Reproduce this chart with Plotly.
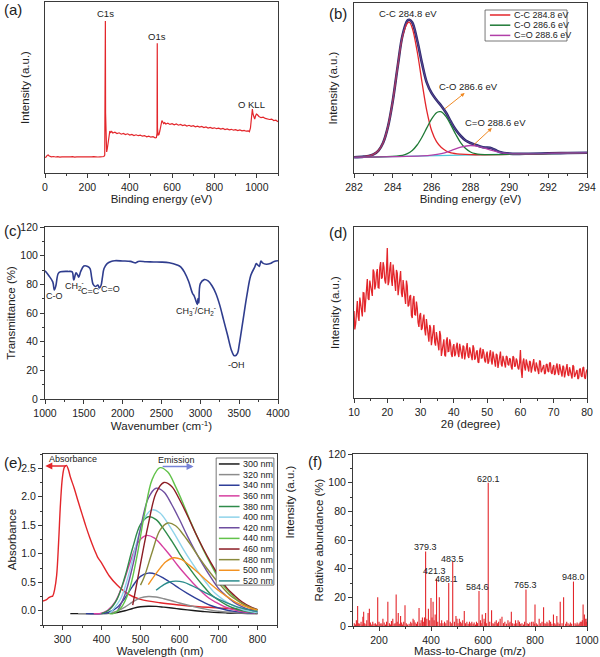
import plotly.graph_objects as go

FONT = "Liberation Sans, Arial, sans-serif"

# ---------------- (a) XPS survey ----------------
A_BE = [0, 5, 10, 15, 20, 25, 30, 40, 50, 60, 70, 80, 90, 100, 110, 120, 130, 140, 150, 160, 170, 180, 190, 200,
        210, 220, 230, 240, 250, 260, 270, 278, 282, 284, 285, 286, 288, 291, 294, 297, 300, 303, 306, 310, 315, 320,
        330, 340, 350, 360, 370, 380, 390, 400, 410, 420, 430, 440, 450, 460, 470, 480, 490, 500, 510, 520, 526,
        529, 530, 531, 534, 538, 542, 547, 552, 556, 560, 565, 570, 580, 590, 600, 610, 620, 630, 640, 650, 660,
        670, 680, 690, 700, 710, 720, 730, 740, 750, 760, 770, 780, 790, 800, 810, 820, 830, 840, 850, 860, 870,
        880, 890, 900, 910, 920, 930, 940, 950, 960, 965, 970, 974, 977, 979, 982, 986, 990, 994, 998, 1002, 1006,
        1010, 1020, 1030, 1040, 1050, 1060, 1070, 1080, 1090, 1100]
A_INT = [15.5, 16, 17.5, 18, 17, 16.5, 16.2, 16.5, 16, 16.3, 15.8, 16.2, 16, 16.3, 15.9, 16.1, 16.4, 15.8, 16.2, 16,
         16.3, 15.9, 16.1, 16.2, 15.8, 16.1, 16.3, 15.9, 16, 16.2, 16.1, 16.5, 18, 60, 152, 60, 25, 21, 24, 30, 36,
         40, 42, 40.5, 41.5, 40, 40.8, 39.5, 40.2, 38.8, 39.6, 38.5, 39.2, 38, 38.6, 37.5, 38.2, 37.3, 37.9, 36.8,
         37.4, 36.2, 36.9, 35.8, 36.3, 35.2, 35.5, 40, 129.7, 45, 38, 38.5, 42, 48, 52.5, 51, 49.5, 50.3, 49, 49.8,
         48.6, 49.3, 48.2, 49, 47.8, 48.5, 47.5, 48.1, 47, 47.7, 46.6, 47.3, 46.2, 46.8, 45.9, 46.5, 45.5, 46, 45,
         45.6, 44.6, 45.2, 44.3, 44.9, 43.9, 44.5, 43.5, 44, 43.1, 43.7, 42.8, 43.3, 42.4, 43, 42.1, 42.6, 41.8,
         42.2, 41.3, 45, 55, 63, 64, 59, 55, 54, 57, 59, 58.5, 57, 56.5, 55.3, 55.8, 54.6, 54.2, 53.5, 53.9, 52.5,
         52.8, 51.3]

# ---------------- (b) C1s high resolution ----------------
B_ENV_BE = [282, 282.5, 282.75, 283, 283.25, 283.5, 283.75, 284, 284.25, 284.5, 284.75, 284.85, 285, 285.25, 285.5,
            285.75, 286, 286.25, 286.5, 286.75, 287, 287.25, 287.5, 287.75, 288, 288.25, 288.5, 288.75, 289, 289.25,
            289.5, 290, 290.5, 291, 292, 293, 294]
B_ENV = [15.7, 16.4, 17.0, 18.6, 22.2, 30.3, 46.4, 72.5, 106.6, 137.7, 152.3, 153.3, 150.5, 133, 109.9, 90.4, 79.8,
         73, 67, 60, 51, 43, 37, 32.5, 30, 28.3, 26.6, 25.5, 25.2, 23.3, 21.1, 19.4, 19.1, 19.3, 19.7, 20.0, 20.3]
B_CC_BE = [282, 282.5, 282.75, 283, 283.25, 283.5, 283.75, 284, 284.25, 284.5, 284.75, 284.85, 285, 285.25, 285.5,
           285.75, 286, 286.25, 286.5, 286.75, 287, 287.5, 288, 294]
B_CC = [15.7, 16.4, 17.0, 18.6, 22.2, 30.3, 46.4, 72.5, 106.6, 136.7, 149.8, 150.8, 144.9, 122.0, 91.0, 62.1, 42.2,
        31.3, 25.4, 22.0, 20.1, 18.8, 18.3, 20.3]
B_CO_BE = [282, 284.5, 284.75, 285, 285.25, 285.5, 285.75, 286, 286.25, 286.4, 286.5, 286.75, 287, 287.25, 287.5,
           287.75, 288, 288.25, 288.5, 294]
B_CO = [15.7, 17.7, 19.3, 22.5, 28.0, 35.8, 45.1, 54.2, 60.3, 61.3, 61.2, 56.2, 47.6, 38.3, 30.1, 24.4, 21.0, 19.3,
        18.6, 20.3]
B_CEO_BE = [282, 285.5, 286, 286.5, 287, 287.5, 288, 288.5, 289, 289.5, 290, 290.5, 294]
B_CEO = [15.7, 17.1, 17.8, 19.4, 22.4, 25.8, 27.5, 26.2, 23.2, 20.6, 19.4, 19.1, 20.3]
B_BASE_BE = [282, 294]
B_BASE = [15.7, 20.3]
B_NAMES = ["C-C 284.8 eV", "C-O 286.6 eV", "C=O 288.6 eV"]

# ---------------- (c) FTIR ----------------
C_WN = [1000, 1050, 1100, 1120, 1140, 1170, 1200, 1300, 1350, 1370, 1400, 1420, 1434, 1460, 1500, 1550, 1580, 1600,
        1620, 1650, 1680, 1700, 1720, 1740, 1760, 1800, 1850, 1900, 2000, 2100, 2170, 2200, 2300, 2400, 2500, 2600,
        2700, 2750, 2800, 2850, 2900, 2920, 2940, 2960, 2970, 2980, 3000, 3050, 3100, 3150, 3200, 3250, 3300, 3350,
        3400, 3430, 3450, 3480, 3500, 3550, 3600, 3650, 3700, 3720, 3740, 3760, 3780, 3800, 3850, 3900, 3950, 4000]
C_T = [89.4, 86, 81.7, 76, 79, 87.5, 88.7, 89, 88.7, 83, 88, 86.5, 85, 89, 92.8, 92.5, 91, 85, 80, 78.5, 79.5, 77.5,
       79, 85, 91, 94.5, 96, 96.5, 96.3, 96, 95, 96, 95.8, 95.6, 95.5, 95, 93.5, 92, 88, 82, 73.6, 72, 69, 66, 70, 67,
       80.5, 83.3, 82.4, 79, 73.6, 65.5, 55, 44.6, 34, 30.5, 30.2, 32, 37.6, 55, 72.4, 86.3, 92, 94.5, 93.5, 92.5,
       96.3, 95, 94, 94.5, 96, 96.5]

# ---------------- (d) XRD ----------------
D_2THETA = [10, 10.25, 10.5, 10.75, 11, 11.25, 11.5, 11.75, 12, 12.25, 12.5, 12.75, 13, 13.25, 13.5, 13.75,
            14, 14.25, 14.5, 14.75, 15, 15.25, 15.5, 15.75, 16, 16.25, 16.5, 16.75, 17, 17.25, 17.5, 17.75,
            18, 18.25, 18.5, 18.75, 19, 19.25, 19.5, 19.75, 20, 20.25, 20.5, 20.75, 21, 21.25, 21.5, 21.75,
            22, 22.25, 22.5, 22.75, 23, 23.25, 23.5, 23.75, 24, 24.25, 24.5, 24.75, 25, 25.25, 25.5, 25.75,
            26, 26.25, 26.5, 26.75, 27, 27.25, 27.5, 27.75, 28, 28.25, 28.5, 28.75, 29, 29.25, 29.5, 29.75,
            30, 30.25, 30.5, 30.75, 31, 31.25, 31.5, 31.75, 32, 32.25, 32.5, 32.75, 33, 33.25, 33.5, 33.75,
            34, 34.25, 34.5, 34.75, 35, 35.25, 35.5, 35.75, 36, 36.25, 36.5, 36.75, 37, 37.25, 37.5, 37.75,
            38, 38.25, 38.5, 38.75, 39, 39.25, 39.5, 39.75, 40, 40.25, 40.5, 40.75, 41, 41.25, 41.5, 41.75,
            42, 42.25, 42.5, 42.75, 43, 43.25, 43.5, 43.75, 44, 44.25, 44.5, 44.75, 45, 45.25, 45.5, 45.75,
            46, 46.25, 46.5, 46.75, 47, 47.25, 47.5, 47.75, 48, 48.25, 48.5, 48.75, 49, 49.25, 49.5, 49.75,
            50, 50.25, 50.5, 50.75, 51, 51.25, 51.5, 51.75, 52, 52.25, 52.5, 52.75, 53, 53.25, 53.5, 53.75,
            54, 54.25, 54.5, 54.75, 55, 55.25, 55.5, 55.75, 56, 56.25, 56.5, 56.75, 57, 57.25, 57.5, 57.75,
            58, 58.25, 58.5, 58.75, 59, 59.25, 59.5, 59.75, 60, 60.25, 60.5, 60.75, 61, 61.25, 61.5, 61.75,
            62, 62.25, 62.5, 62.75, 63, 63.25, 63.5, 63.75, 64, 64.25, 64.5, 64.75, 65, 65.25, 65.5, 65.75,
            66, 66.25, 66.5, 66.75, 67, 67.25, 67.5, 67.75, 68, 68.25, 68.5, 68.75, 69, 69.25, 69.5, 69.75,
            70, 70.25, 70.5, 70.75, 71, 71.25, 71.5, 71.75, 72, 72.25, 72.5, 72.75, 73, 73.25, 73.5, 73.75,
            74, 74.25, 74.5, 74.75, 75, 75.25, 75.5, 75.75, 76, 76.25, 76.5, 76.75, 77, 77.25, 77.5, 77.75,
            78, 78.25, 78.5, 78.75, 79, 79.25, 79.5, 79.75, 80]
D_INT = [87, 68.5, 74, 88.5, 97, 81.5, 77, 100.5, 94, 83.8, 81.5, 105.3, 105, 85.8, 95.5, 107.3,
         119, 99.5, 98, 117.5, 113, 108.5, 102, 128.5, 126, 108.5, 113, 124.5, 129, 110.5, 110, 130.5,
         136, 119.3, 120.5, 135.8, 131, 117.8, 114.5, 127.3, 150, 112.8, 116.5, 129.3, 136, 118.5, 112, 133.5,
         125, 112, 107, 128, 125, 102.8, 109.5, 118.3, 127, 105, 101, 118, 111, 103.5, 94, 117.5,
         112, 91.5, 93, 101.5, 103, 82.5, 80, 98.5, 102, 83.5, 83, 96.5, 90, 75.5, 71, 82.5,
         85, 68, 70, 79, 83.4, 68.5, 62.5, 78.9, 71, 60.6, 56.4, 73, 70.4, 52.9, 58.5, 65.8,
         73, 55.5, 52.3, 66, 60.4, 54.9, 47.7, 67, 63, 42, 49, 56.7, 58.6, 42.9, 41.6, 57.1,
         60.6, 46.5, 46.8, 58.6, 54.3, 43.7, 41, 51.2, 53.9, 41.7, 43.8, 51.4, 55.3, 44.9, 41, 54.2,
         49.4, 42, 39.3, 52.5, 51.3, 38.5, 43, 49, 55, 42.2, 40.1, 50.7, 46.8, 43, 37.9, 52.7,
         50, 38.4, 39.9, 45.9, 47.7, 36.1, 35.2, 47.2, 50.2, 39.8, 40.1, 48.9, 45.6, 37.6, 35.5, 43.1,
         46.4, 34.2, 36.3, 43.9, 47.8, 37.4, 33.5, 46.5, 41.4, 34, 31.3, 44.3, 42.8, 30, 34.5, 40.5,
         46.5, 33.7, 31.6, 42.2, 38, 32.8, 30.5, 42, 41, 33.8, 32.5, 39.8, 38.5, 31, 28.5, 41.8,
         40.5, 31.8, 32, 39.5, 37, 30.3, 28.5, 35, 48, 27.8, 20, 36, 39.5, 30.8, 27.5, 38.5,
         34, 27.8, 26.5, 37, 36, 25.3, 29, 34, 39, 28.3, 26.5, 35.5, 32.5, 29.3, 24, 37.5,
         36.5, 25.8, 28, 32, 33, 24, 25, 33.3, 34, 27, 26, 34.8, 35.5, 25.5, 24, 30.3,
         33, 23, 25, 31.3, 34.5, 26, 23, 33.8, 29.5, 23.5, 21.5, 32.3, 31, 20.5, 24.5, 29.3,
         34, 23.5, 22, 30.8, 27.5, 24.5, 19.5, 32.8, 31.5, 21, 23.5, 27.3, 28, 19, 20, 28.5,
         29.5, 22.3, 21, 30, 31, 21, 19, 25.5, 28.5]

# ---------------- (e) UV-vis absorbance + PL ----------------
E_ABS_WL = [250, 258, 265, 271, 275, 280, 285, 290, 295, 300, 305, 310, 315, 320, 330, 340, 350, 360, 370, 380, 385,
            390, 400, 420, 440, 460, 480, 500, 550, 600, 650, 700, 750, 800]
E_ABS = [0.17, 0.19, 0.23, 0.25, 0.26, 0.38, 0.62, 1.2, 1.9, 2.35, 2.52, 2.55, 2.48, 2.35, 2.15, 1.92, 1.70, 1.48,
         1.28, 1.10, 1.02, 0.94, 0.84, 0.61, 0.45, 0.33, 0.25, 0.20, 0.14, 0.10, 0.07, 0.05, 0.03, 0.02]

E_LABELS = ["300 nm", "320 nm", "340 nm", "360 nm", "380 nm", "400 nm", "420 nm", "440 nm", "460 nm", "480 nm",
            "500 nm", "520 nm"]
E_WL_300 = [320, 400, 420, 440, 460, 480, 500, 520, 540, 560, 580, 600, 620, 640, 660, 680, 700, 720, 740, 760, 780, 800]
E_PL_300 = [-0.05, -0.05, -0.045, -0.03, 0.0, 0.04, 0.07, 0.08, 0.076, 0.063, 0.048, 0.031, 0.015, 0.001, -0.012,
            -0.024, -0.032, -0.038, -0.043, -0.046, -0.048, -0.05]
E_WL_320 = [340, 400, 420, 440, 460, 480, 500, 520, 540, 560, 580, 600, 620, 640, 660, 680, 700, 720, 740, 760, 780, 800]
E_PL_320 = [-0.05, -0.05, -0.038, -0.005, 0.064, 0.154, 0.226, 0.25, 0.241, 0.211, 0.175, 0.136, 0.10, 0.067, 0.037,
            0.01, -0.008, -0.023, -0.034, -0.041, -0.046, -0.05]
E_WL_340 = [360, 400, 420, 440, 460, 480, 500, 520, 540, 560, 580, 600, 620, 640, 660, 680, 700, 720, 740, 760, 780, 800]
E_PL_340 = [-0.05, -0.05, -0.022, 0.057, 0.22, 0.433, 0.603, 0.66, 0.639, 0.568, 0.483, 0.39, 0.305, 0.227, 0.156,
            0.092, 0.049, 0.014, -0.011, -0.029, -0.039, -0.045]
E_WL_360 = [380, 395, 415, 435, 455, 475, 495, 515, 535, 555, 575, 595, 615, 635, 655, 675, 695, 715, 735, 755, 775,
            795, 800]
E_PL_360 = [-0.05, -0.05, 0.005, 0.156, 0.471, 0.882, 1.21, 1.32, 1.279, 1.142, 0.978, 0.799, 0.635, 0.484, 0.347,
            0.224, 0.142, 0.073, 0.025, -0.009, -0.029, -0.045, -0.047]
E_WL_380 = [400, 420, 440, 460, 480, 500, 520, 540, 560, 580, 600, 620, 640, 660, 680, 700, 720, 740, 760, 780, 800]
E_PL_380 = [-0.05, 0.018, 0.205, 0.596, 1.106, 1.514, 1.65, 1.599, 1.429, 1.225, 1.004, 0.80, 0.613, 0.443, 0.29,
            0.188, 0.103, 0.044, 0.001, -0.025, -0.04]
E_WL_400 = [420, 430, 450, 470, 490, 510, 530, 550, 570, 590, 610, 630, 650, 670, 690, 710, 730, 750, 770, 790, 800]
E_PL_400 = [-0.05, 0.023, 0.223, 0.642, 1.188, 1.624, 1.77, 1.715, 1.533, 1.315, 1.078, 0.86, 0.66, 0.478, 0.314,
            0.205, 0.114, 0.05, 0.005, -0.023, -0.03]
E_WL_420 = [440, 460, 480, 500, 520, 540, 560, 580, 600, 620, 640, 660, 680, 700, 720, 740, 760, 780, 800]
E_PL_420 = [-0.02, 0.28, 0.786, 1.446, 1.974, 2.15, 2.084, 1.864, 1.6, 1.314, 1.05, 0.808, 0.588, 0.39, 0.258, 0.148,
            0.071, 0.016, -0.017]
E_WL_440 = [420, 430, 450, 470, 490, 510, 530, 550, 570, 590, 610, 630, 650, 670, 690, 710, 730, 750, 770, 790, 800]
E_PL_440 = [-0.05, -0.05, 0.052, 0.334, 0.923, 1.691, 2.305, 2.51, 2.433, 2.177, 1.87, 1.537, 1.23, 0.948, 0.692,
            0.462, 0.308, 0.18, 0.091, 0.027, 0.01]
E_WL_460 = [480, 500, 520, 540, 560, 580, 600, 620, 640, 660, 680, 700, 720, 740, 760, 780, 800]
E_PL_460 = [0.1, 0.824, 1.514, 2.066, 2.25, 2.181, 1.951, 1.675, 1.376, 1.1, 0.847, 0.617, 0.41, 0.272, 0.157, 0.077,
            0.02]
E_WL_480 = [500, 510, 530, 550, 570, 590, 610, 630, 650, 670, 690, 710, 730, 750, 770, 790, 800]
E_PL_480 = [0.45, 0.6, 1.031, 1.413, 1.54, 1.492, 1.333, 1.143, 0.936, 0.745, 0.57, 0.411, 0.268, 0.173, 0.093, 0.037,
            0.02]
E_WL_500 = [520, 545, 565, 585, 605, 625, 645, 665, 685, 705, 725, 745, 765, 785, 800]
E_PL_500 = [0.46, 0.7, 0.86, 0.93, 0.90, 0.80, 0.685, 0.558, 0.44, 0.33, 0.234, 0.146, 0.087, 0.038, 0.01]
E_WL_520 = [540, 560, 575, 590, 610, 630, 650, 670, 690, 710, 730, 750, 770, 790, 800]
E_PL_520 = [0.36, 0.46, 0.505, 0.52, 0.503, 0.446, 0.378, 0.303, 0.235, 0.172, 0.115, 0.064, 0.03, -0.003, -0.01]

# ---------------- (f) mass spectrum ----------------
F_MZ = [117.8, 138, 141, 158, 163, 195, 215, 234, 253, 266, 274, 283, 300, 322, 331, 354, 367, 379.3, 390, 400, 408,
        421.3, 432, 468.1, 483.5, 496, 509, 528, 548, 584.6, 597, 610, 620.1, 633, 651, 673, 696, 709, 735, 765.3,
        787, 800, 816, 833, 855, 871, 884, 897, 910, 948.0, 974, 985, 990, 995]
F_AB = [14, 6.5, 10, 9, 12, 20, 5, 17, 5, 22, 9, 7, 14.5, 3, 5, 12.5, 6, 52, 12, 19.5, 17, 33, 20, 30, 45, 7, 5, 10.5,
        3, 24.5, 8, 9, 100, 11, 4, 6.5, 4, 10, 4, 25.5, 3, 15, 5, 13, 4, 8, 7, 17, 20, 31, 3, 15, 8, 5]
F_MZ_MINOR = [105, 110, 113, 122, 126, 131, 135, 145, 150, 153, 167, 172, 176, 181, 186, 190, 200, 204, 208, 212, 220,
              225, 229, 240, 244, 248, 258, 262, 270, 278, 287, 290, 295, 305, 310, 316, 326, 335, 339, 344, 348, 358,
              362, 372, 375, 384, 395, 404, 412, 416, 426, 438, 441, 446, 452, 457, 462, 474, 478, 490, 500, 504,
              514, 518, 522, 533, 538, 543, 553, 557, 562, 566, 571, 575, 579, 590, 593, 604, 607, 614, 626, 638,
              642, 646, 656, 660, 666, 679, 684, 690, 700, 704, 714, 720, 725, 730, 740, 745, 750, 756, 760, 770,
              775, 780, 793, 797, 805, 810, 822, 827, 838, 842, 846, 850, 860, 865, 876, 880, 888, 893, 904, 918,
              922, 927, 932, 936, 941, 954, 958, 962, 966, 970, 978, 982, 997, 1000]
F_AB_MINOR = [2, 1, 4, 2, 1.5, 3, 1, 2, 1.2, 4, 2.5, 1, 3, 1.5, 2, 1, 3, 1.5, 2, 1, 2.5, 1, 3, 2, 1, 3.5, 1.5, 2, 3,
              1.5, 2.5, 1, 3, 2, 1, 1.5, 2, 4, 2.5, 1.5, 3, 2, 4, 3, 6, 5, 4, 6, 4, 8, 3, 2, 4, 2, 3, 2, 4, 3, 2, 3,
              5, 2, 3, 2, 4, 2, 3, 1.5, 2, 3, 1.5, 2.5, 1, 3, 2, 4, 2, 5, 3, 2, 3, 2, 1.5, 3, 2, 3, 5, 2, 3, 1.5, 2,
              3, 2, 1.5, 4, 2, 3, 1.5, 2, 1, 3, 2, 1.5, 2.5, 3, 1.5, 2, 1, 2, 3, 2, 1.5, 3, 2, 3, 1.5, 2, 1, 2.5,
              1.5, 2, 1.5, 3, 2, 1, 2.5, 1.5, 2, 1, 2.5, 1, 2, 3, 4, 3, 5]
F_LABELS = ["379.3", "421.3", "468.1", "483.5", "584.6", "620.1", "765.3", "948.0"]
F_LABEL_MZ = [379.3, 421.3, 468.1, 483.5, 584.6, 620.1, 765.3, 948.0]

# ---------------- styling ----------------
RED = "#e3262b"
NAVY = "#2f3d8e"
AXC = "#3a3a3a"
E_COLORS = ["#1a1a1a", "#8c8c8c", "#2f3f99", "#d63fa0", "#2e8b4a", "#8fd3ea", "#6e4ea0", "#62c24a", "#8b1c24",
            "#8a8a3c", "#f39221", "#2b8c8c"]

W, H = 600, 657


def px_x(p):
    return p / W


def px_y(p):
    return 1 - p / H


fig = go.Figure()

# (a)
fig.add_trace(go.Scatter(x=A_BE, y=A_INT, mode="lines", line=dict(color=RED, width=1.2), xaxis="x", yaxis="y",
                         showlegend=False))
# (b)
fig.add_trace(go.Scatter(x=B_BASE_BE, y=B_BASE, mode="lines", line=dict(color="#4fc8dc", width=1.2), xaxis="x2",
                         yaxis="y2", showlegend=False))
fig.add_trace(go.Scatter(x=B_ENV_BE, y=B_ENV, mode="lines", line=dict(color="#2a2a6e", width=2.6, shape="spline"),
                         xaxis="x2", yaxis="y2", showlegend=False))
for bx, by, col in [(B_CC_BE, B_CC, "#e3262b"), (B_CO_BE, B_CO, "#1f7a36"), (B_CEO_BE, B_CEO, "#b13fa8")]:
    fig.add_trace(go.Scatter(x=bx, y=by, mode="lines", line=dict(color=col, width=1.3, shape="spline"),
                             xaxis="x2", yaxis="y2", showlegend=False))
fig.add_trace(go.Scatter(x=B_ENV_BE, y=B_ENV, mode="lines", line=dict(color="#6a4a9a", width=0.8, shape="spline"),
                         xaxis="x2", yaxis="y2", showlegend=False))
# (c)
fig.add_trace(go.Scatter(x=C_WN, y=C_T, mode="lines", line=dict(color=NAVY, width=1.6, shape="spline"),
                         xaxis="x3", yaxis="y3", showlegend=False))
# (d)
fig.add_trace(go.Scatter(x=D_2THETA, y=D_INT, mode="lines", line=dict(color=RED, width=1.3), xaxis="x4",
                         yaxis="y4", showlegend=False))
# (e)
fig.add_trace(go.Scatter(x=E_ABS_WL, y=E_ABS, mode="lines", line=dict(color=RED, width=1.4, shape="spline"),
                         xaxis="x5", yaxis="y5", showlegend=False))
E_WLS = [E_WL_300, E_WL_320, E_WL_340, E_WL_360, E_WL_380, E_WL_400, E_WL_420, E_WL_440, E_WL_460, E_WL_480,
         E_WL_500, E_WL_520]
E_PLS = [E_PL_300, E_PL_320, E_PL_340, E_PL_360, E_PL_380, E_PL_400, E_PL_420, E_PL_440, E_PL_460, E_PL_480,
         E_PL_500, E_PL_520]
for wl, pl, col in zip(E_WLS, E_PLS, E_COLORS):
    fig.add_trace(go.Scatter(x=wl, y=pl, mode="lines", line=dict(color=col, width=1.4, shape="spline"),
                             xaxis="x5", yaxis="y5", showlegend=False))
# (f)
sx, sy = [], []
for m, h in zip(F_MZ_MINOR + F_MZ, F_AB_MINOR + F_AB):
    sx += [m, m, None]
    sy += [0, h, None]
fig.add_trace(go.Scatter(x=sx, y=sy, mode="lines", line=dict(color=RED, width=1.1), xaxis="x6", yaxis="y6",
                         showlegend=False))


def axis(domain, rng, anchor, dtick=None, minor=None, showticks=True, title=None, standoff=2, tickfont=10.5):
    d = dict(domain=domain, range=rng, anchor=anchor, showline=True, linecolor=AXC, linewidth=1, mirror=True,
             showgrid=False, zeroline=False, tickfont=dict(size=tickfont, color="#222"), automargin=False,
             ticks="outside" if showticks else "", ticklen=4, tickwidth=1, tickcolor=AXC,
             showticklabels=showticks)
    if dtick is not None:
        d["dtick"] = dtick
        d["tick0"] = 0
    if minor is not None and showticks:
        d["minor"] = dict(dtick=minor, ticks="outside", ticklen=2, tickcolor=AXC, tickwidth=1)
    if title is not None:
        d["title"] = dict(text=title, font=dict(size=11.5, color="#222"), standoff=standoff)
    return d


layout = dict(width=W, height=H, margin=dict(l=0, r=0, t=0, b=0, autoexpand=False), plot_bgcolor="white",
              paper_bgcolor="white", font=dict(family=FONT, size=11, color="#222"), showlegend=False)

# domains
dA_x = [px_x(45), px_x(278)]; dA_y = [px_y(173), px_y(2)]
dB_x = [px_x(354), px_x(587)]; dB_y = [px_y(173), px_y(3)]
dC_x = [px_x(45), px_x(278)]; dC_y = [px_y(399), px_y(227)]
dD_x = [px_x(354), px_x(587)]; dD_y = [px_y(398), px_y(227)]
dE_x = [px_x(43), px_x(277)]; dE_y = [px_y(625), px_y(454)]
dF_x = [px_x(353), px_x(587)]; dF_y = [px_y(626), px_y(454)]

layout["xaxis"] = axis(dA_x, [0, 1100], "y", 200, 100, title="Binding energy (eV)")
layout["yaxis"] = axis(dA_y, [0, 171], "x", showticks=False, title="Intensity (a.u.)", standoff=11)
layout["xaxis2"] = axis(dB_x, [282, 294], "y2", 2, 1, title="Binding energy (eV)")
layout["yaxis2"] = axis(dB_y, [0, 170], "x2", showticks=False, title="Intensity (a.u.)", standoff=12)
layout["xaxis3"] = axis(dC_x, [1000, 4000], "y3", 500, 250, title="Wavenumber (cm<sup>-1</sup>)")
layout["yaxis3"] = axis(dC_y, [0, 120], "x3", 20, 10, title="Transmittance (%)", standoff=2)
layout["xaxis4"] = axis(dD_x, [10, 80], "y4", 10, 5, title="2θ (degree)")
layout["yaxis4"] = axis(dD_y, [0, 171], "x4", showticks=False, title="Intensity (a.u.)", standoff=10)
layout["xaxis5"] = axis(dE_x, [250, 850], "y5", 100, 50, title="Wavelength (nm)")
layout["yaxis5"] = axis(dE_y, [-0.25, 2.75], "x5", 0.5, 0.25, title="Absorbance", standoff=2)
layout["yaxis5"]["tickformat"] = ".1f"
layout["xaxis6"] = axis(dF_x, [100, 1000], "y6", 200, 100, title="Mass-to-Charge (m/z)")
layout["yaxis6"] = axis(dF_y, [0, 120], "x6", 20, 10, title="Relative abundance (%)", standoff=2)
layout["xaxis6"]["tick0"] = 0

fig.update_layout(**layout)

ann = []
shapes = []


def txt(x, y, t, xref, yref, size=9.5, xanchor="center", color="#222", yanchor="middle"):
    ann.append(dict(x=x, y=y, text=t, xref=xref, yref=yref, showarrow=False, xanchor=xanchor, yanchor=yanchor,
                    font=dict(size=size, color=color, family=FONT)))


def arrow(x0, y0, x1, y1, xref, yref, color, width=1.0, size=0.8):
    ann.append(dict(x=x1, y=y1, ax=x0, ay=y0, xref=xref, yref=yref, axref=xref, ayref=yref, showarrow=True,
                    arrowhead=2, arrowsize=size, arrowwidth=width, arrowcolor=color, text=""))


# panel letters
for lx, ly, lt in [(2, 9, "(a)"), (327, 13, "(b)"), (2, 231, "(c)"), (327, 232, "(d)"), (2, 462, "(e)"),
                   (306, 461, "(f)")]:
    ann.append(dict(x=px_x(lx), y=px_y(ly), text=lt, xref="paper", yref="paper", showarrow=False, xanchor="left",
                    yanchor="middle", font=dict(size=15, color="#222", family=FONT)))

# (a) labels
txt(285, 160, "C1s", "x", "y")
txt(530, 137, "O1s", "x", "y")
txt(975, 69, "O KLL", "x", "y")

# (b) labels and arrows
txt(284.8, 159, "C-C 284.8 eV", "x2", "y2")
txt(287.9, 86, "C-O 286.6 eV", "x2", "y2")
txt(289.3, 50, "C=O 288.6 eV", "x2", "y2")
arrow(286.6, 63, 287.7, 80, "x2", "y2", "#f08a24")
arrow(288.1, 27, 289.1, 45, "x2", "y2", "#f08a24")
# (b) legend
shapes.append(dict(type="rect", xref="x2", yref="y2", x0=288.75, x1=292.97, y0=132, y1=163,
                   line=dict(color="#555", width=0.8), fillcolor="white"))
for i, (nm, col) in enumerate(zip(B_NAMES, ["#e3262b", "#1f7a36", "#b13fa8"])):
    yy = 158 - 10.2 * i
    shapes.append(dict(type="line", xref="x2", yref="y2", x0=289.0, x1=290.05, y0=yy, y1=yy,
                       line=dict(color=col, width=1.5)))
    txt(290.12, yy, nm, "x2", "y2", size=9, xanchor="left")

# (c) labels
txt(1125, 72, "C-O", "x3", "y3", size=9)
txt(1385, 79, "CH<sub>2</sub><sup>-</sup>", "x3", "y3", size=9)
txt(1590, 75, "C=C", "x3", "y3", size=9)
txt(1840, 76.5, "C=O", "x3", "y3", size=9)
txt(2950, 62, "CH<sub>3</sub><sup>-</sup>/CH<sub>2</sub><sup>-</sup>", "x3", "y3", size=9)
txt(3465, 24, "-OH", "x3", "y3", size=9)

# (e) arrows and legend
arrow(313, 2.54, 256, 2.54, "x5", "y5", RED, width=1.4, size=1)
txt(261, 2.66, "Absorbance", "x5", "y5", size=9, xanchor="left")
arrow(553, 2.53, 636, 2.53, "x5", "y5", "#7683d6", width=1.4, size=1)
txt(592, 2.645, "Emission", "x5", "y5", size=9)
shapes.append(dict(type="rect", xref="x5", yref="y5", x0=694, x1=842, y0=0.45, y1=2.68,
                   line=dict(color="#555", width=0.8), fillcolor="white"))
for i, (nm, col) in enumerate(zip(E_LABELS, E_COLORS)):
    yy = 2.575 - 0.1865 * i
    shapes.append(dict(type="line", xref="x5", yref="y5", x0=701, x1=754, y0=yy, y1=yy,
                       line=dict(color=col, width=1.5)))
    txt(758, yy, nm, "x5", "y5", size=9, xanchor="left")
ann.append(dict(x=px_x(289), y=px_y(541), text="Intensity (a.u.)", xref="paper", yref="paper", showarrow=False,
                textangle=-90, font=dict(size=11.5, color="#222", family=FONT)))

# (f) labels
for lab, m, yy in zip(F_LABELS, F_LABEL_MZ, [55, 38.5, 33, 47, 27.5, 102.5, 28.5, 34]):
    xx = m
    if lab in ("421.3", "468.1"):
        xx = m - 8
    if lab == "584.6":
        xx = m - 7
    txt(xx, yy, lab, "x6", "y6", size=9)

fig.update_layout(annotations=ann, shapes=shapes)
fig.write_html("out.html", config={"displayModeBar": False},
               post_script="document.body.style.margin='0px';document.body.style.padding='0px';")
